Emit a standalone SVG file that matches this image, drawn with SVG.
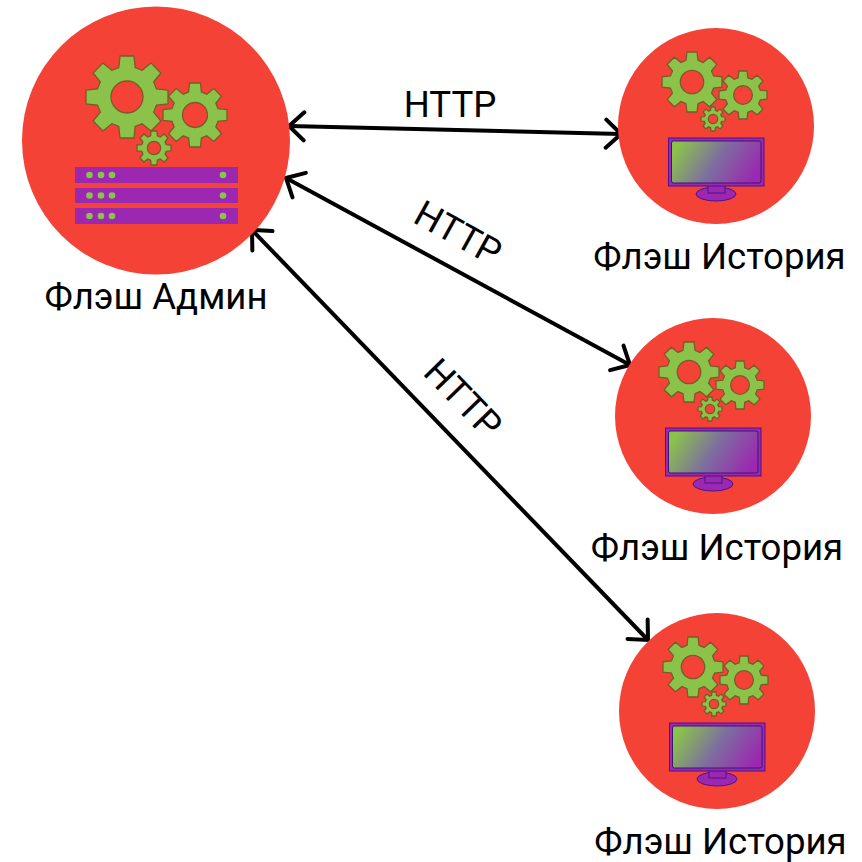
<svg xmlns="http://www.w3.org/2000/svg" width="862" height="862" viewBox="0 0 862 862">
<style>
.disc{fill:#f44336}
.gear{fill:#8bc34a;stroke:#7a5a28;stroke-width:1.300;vector-effect:non-scaling-stroke;fill-rule:evenodd}
.bar{fill:#9c27b0}
.dot{fill:#8bc34a}
.conn{fill:none;stroke:#000;stroke-width:4;marker-start:url(#arrow);marker-end:url(#arrow)}
text{font-family:Roboto,"Liberation Sans",sans-serif;fill:#000}
.name{font-size:36.600px}
.http{font-size:36.600px}
</style>
<defs>
<linearGradient id="screen" x1="0" y1="0.35" x2="1" y2="0.65">
<stop offset="0" stop-color="#8bc34a"/>
<stop offset="0.5" stop-color="#7d6da0"/>
<stop offset="1" stop-color="#9c27b0"/>
</linearGradient>
<marker id="arrow" viewBox="-20 -17 24 34" refX="0" refY="0" markerUnits="userSpaceOnUse" markerWidth="24" markerHeight="34" orient="auto-start-reverse">
<path d="M-15 -14L0 0L-15 14" fill="none" stroke="#000" stroke-width="4" stroke-linecap="round"/>
</marker>
<path id="g" class="gear" d="M-20 -72L-17 -100L17 -100L20 -72L36.800 -65.100L58.700 -82.700L82.700 -58.700L65.100 -36.800L72 -20L100 -17L100 17L72 20L65.100 36.800L82.700 58.700L58.700 82.700L36.800 65.100L20 72L17 100L-17 100L-20 72L-36.800 65.100L-58.700 82.700L-82.700 58.700L-65.100 36.800L-72 20L-100 17L-100 -17L-72 -20L-65.100 -36.800L-82.700 -58.700L-58.700 -82.700L-36.800 -65.100ZM39 0A39 39 0 1 0 -39 0A39 39 0 1 0 39 0Z"/>
<g id="hist">
<circle class="disc" cx="716" cy="126" r="98"/>
<use href="#g" transform="translate(692 82) scale(.3)"/>
<use href="#g" transform="translate(743 95) scale(.24)"/>
<use href="#g" transform="translate(713 119) scale(.12)"/>
<ellipse cx="716" cy="194" rx="20" ry="7" fill="#9c27b0" stroke="#4a148c" stroke-width="1"/>
<rect x="708" y="185" width="17" height="8" fill="#9c27b0" stroke="#4a148c" stroke-width="1"/>
<rect x="668.500" y="138" width="95.500" height="48" fill="#9c27b0" stroke="#4a148c" stroke-width="1"/>
<rect x="671.500" y="141" width="89.500" height="42" rx="2" fill="url(#screen)" stroke="#3a1670" stroke-width="1"/>
</g>
</defs>
<g id="connectors">
<path class="conn" d="M289 126L621 134"/>
<path class="conn" d="M286 178L630 365"/>
<path class="conn" d="M252 230L648 640"/>
</g>
<g id="admin">
<circle class="disc" cx="156" cy="140.500" r="134"/>
<use href="#g" transform="translate(127 97) scale(.41)"/>
<use href="#g" transform="translate(195 115) scale(.32)"/>
<use href="#g" transform="translate(154 148) scale(.17)"/>
<rect class="bar" x="75" y="167" width="163" height="16"/>
<rect class="bar" x="75" y="188" width="163" height="15"/>
<rect class="bar" x="75" y="208" width="163" height="16"/>
<g class="dot">
<circle cx="89.500" cy="175" r="3.300"/><circle cx="101" cy="175" r="3.300"/><circle cx="112" cy="175" r="3.300"/><circle cx="223" cy="175" r="3.300"/>
<circle cx="89.500" cy="195.500" r="3.300"/><circle cx="101" cy="195.500" r="3.300"/><circle cx="112" cy="195.500" r="3.300"/><circle cx="223" cy="195.500" r="3.300"/>
<circle cx="89.500" cy="216" r="3.300"/><circle cx="101" cy="216" r="3.300"/><circle cx="112" cy="216" r="3.300"/><circle cx="223" cy="216" r="3.300"/>
</g>
<text class="name" x="156" y="309" text-anchor="middle">Флэш Админ</text>
</g>
<g id="history1">
<use href="#hist"/>
<text class="name" x="719.500" y="269" text-anchor="middle">Флэш История</text>
</g>
<g id="history2">
<use href="#hist" transform="translate(-3 290)"/>
<text class="name" x="717" y="560" text-anchor="middle">Флэш История</text>
</g>
<g id="history3">
<use href="#hist" transform="translate(1 585)"/>
<text class="name" x="720.500" y="854" text-anchor="middle">Флэш История</text>
</g>
<g id="labels">
<text class="http" x="450" y="117" text-anchor="middle">HTTP</text>
<text class="http" transform="translate(452 244) rotate(29)" text-anchor="middle">HTTP</text>
<text class="http" transform="translate(454 407) rotate(46)" text-anchor="middle">HTTP</text>
</g>
</svg>
